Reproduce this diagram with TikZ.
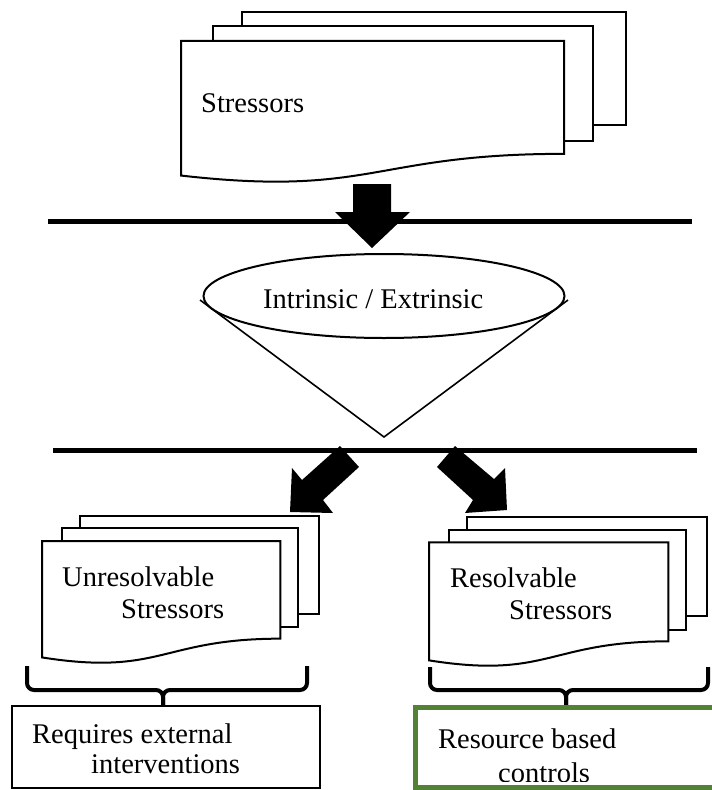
\documentclass[tikz,border=0pt]{standalone}
\usepackage{fontspec}
\setmainfont{Liberation Serif}
\usetikzlibrary{shapes.geometric}
\definecolor{boxgreen}{HTML}{548235}

% Stack of three pages with a wavy bottom on the front one.
% #1,#2: top-left corner; #3,#4: overall width and height.
\newcommand\pagestack[4]{%
  \begin{scope}[shift={(#1,#2)}, x=#3pt, y=-#4pt]
    \filldraw[docline] (0.1376,0) rectangle (1,0.6663);
    \filldraw[docline] (0.0709,0.0840) rectangle (0.9259,0.7570);
    \filldraw[docline] (0,0.1701) -- (0.8609,0.1701) -- (0.8609,0.8344)
      .. controls (0.4305,0.8344) and (0.4305,1.0899) .. (0,0.9621) -- cycle;
  \end{scope}}

\tikzset{
  docline/.style={draw=black, fill=white, line width=2pt, line join=miter},
  label/.style={inner sep=0pt, anchor=base west, font=\fontsize{28.5}{34}\selectfont},
  divider/.style={line width=5pt},
  bracket/.style={line width=4pt, rounded corners=7pt},
  blockarrow/.style={fill=black},
  outcome/.style={draw, inner sep=0pt, outer sep=0pt, anchor=north west},
}

\begin{document}
\begin{tikzpicture}[x=1pt, y=-1pt]
  \useasboundingbox (0,0) rectangle (712,790);
  \fill[white] (0,0) rectangle (712,790);

  % top stack of stressors
  \pagestack{181}{12}{445}{170}
  \node[label] (stressors) at (201,112) {Stressors};

  % first divider and the arrow down to the classifier
  \coordinate (d1L) at (48,221);
  \coordinate (d1R) at (692,221);
  \draw[divider] (d1L) -- (d1R);
  \fill[blockarrow] (353,184) -- (391,184) -- (391,212) -- (410,212)
    -- (372,248) -- (335,212) -- (353,212) -- cycle;

  % funnel with the ellipse on top
  \coordinate (fL) at (200,300);
  \coordinate (fR) at (568,300);
  \coordinate (fT) at (384,437);
  \draw[line width=1.6pt, line join=miter] (fL) -- (fT) -- (fR);
  \node[ellipse, draw, fill=white, line width=2pt, minimum width=361pt,
        minimum height=84pt, inner sep=0pt, outer sep=0pt] (classifier) at (384,296) {};
  \node[label] (classtext) at (263,308) {Intrinsic / Extrinsic};

  % second divider
  \coordinate (d2L) at (53,450);
  \coordinate (d2R) at (697,450);
  \draw[divider] (d2L) -- (d2R);

  % split arrows
  \fill[blockarrow] (340,446) -- (359,467) -- (323,500) -- (333,513)
    -- (290,512) -- (292,468) -- (302,480) -- cycle;
  \fill[blockarrow] (455,446) -- (494,479) -- (505,468) -- (507,510)
    -- (465,513) -- (473,500) -- (437,467) -- cycle;

  % left stack
  \pagestack{42}{516}{277}{147}
  \node[label] (unres1) at (62,586) {Unresolvable};
  \node[label] (unres2) at (121,618) {Stressors};

  % right stack
  \pagestack{429}{517}{278}{149}
  \node[label] (res1) at (450,587) {Resolvable};
  \node[label] (res2) at (509,619) {Stressors};

  % brackets under the stacks
  \coordinate (lbA) at (27,666);
  \coordinate (lbB) at (307,666);
  \coordinate (lbM) at (163,690);
  \coordinate (lbT) at (163,706);
  \draw[bracket] (lbA) -- (27,690) -- (lbM) -- (lbT);
  \draw[bracket] (lbB) -- (307,690) -- (lbM) -- (lbT);

  \coordinate (rbA) at (430,667);
  \coordinate (rbB) at (708,667);
  \coordinate (rbM) at (566,690);
  \coordinate (rbT) at (566,705);
  \draw[bracket] (rbA) -- (430,690) -- (rbM) -- (rbT);
  \draw[bracket] (rbB) -- (708,690) -- (rbM) -- (rbT);

  % outcome boxes
  \node[outcome, line width=2pt, minimum width=308pt, minimum height=82pt]
    (external) at (12,706) {};
  \node[label] (ext1) at (32,743) {Requires external};
  \node[label] (ext2) at (91,773) {interventions};

  \node[outcome, draw=boxgreen, line width=5pt, minimum width=400pt,
        minimum height=80pt] (resource) at (415.5,707.5) {};
  \node[label] (rsc1) at (438,748) {Resource based};
  \begin{scope}
    \clip (418,700) rectangle (712,781);
    \node[label] (rsc2) at (498,782) {controls};
  \end{scope}
\end{tikzpicture}
\end{document}
